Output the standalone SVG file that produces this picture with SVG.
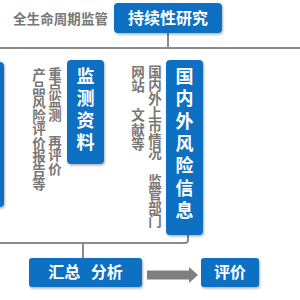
<svg xmlns="http://www.w3.org/2000/svg" width="300" height="300" viewBox="0 0 300 300">
<style>
.box{fill:#0a6fc2;filter:url(#sh)}
.wt{fill:#fff;font-family:"Noto Sans CJK SC","Liberation Sans",sans-serif;font-weight:bold}
.gt{fill:#777;font-family:"Noto Sans CJK SC","Liberation Sans",sans-serif;font-weight:bold;font-size:13.5px}
.v{writing-mode:vertical-rl}
.ln{fill:none;stroke:#8a8a8a;stroke-width:2}
</style>
<defs>
<filter id="sh" x="-20%" y="-20%" width="140%" height="140%">
<feDropShadow dx="1" dy="1.5" stdDeviation="1.2" flood-color="#000" flood-opacity="0.3"/>
</filter>
</defs>
<rect width="300" height="300" fill="#fff"/>
<g id="connectors">
<path class="ln" d="M0,48 H300"/>
<path class="ln" d="M168,33 V48"/>
<path class="ln" d="M188,235 V240 Q188,243 185,243 H0"/>
<path class="ln" d="M83,243 V258"/>
<path d="M147,270.5 H189 V267 L198,275 L189,283 V279.5 H147 Z" fill="#7f7f7f"/>
</g>
<g id="lifecycle">
<text class="gt" x="13" y="24" textLength="95">全生命周期监管</text>
</g>
<g id="research">
<rect class="box" x="114" y="3" width="108" height="30" rx="4"/>
<text class="wt" x="168" y="24" font-size="16" text-anchor="middle">持续性研究</text>
</g>
<g id="leftbox">
<rect class="box" x="-6" y="62" width="10" height="145" rx="4"/>
</g>
<g id="report">
<text class="gt v" x="39" y="68" letter-spacing="0.1">产品风险评价报告等</text>
</g>
<g id="monitor-note">
<text class="gt v" x="55" y="67" letter-spacing="0.1">重点监测　再评价</text>
</g>
<g id="monitor">
<rect class="box" x="67" y="60" width="37" height="104" rx="4"/>
<text class="wt v" x="85.5" y="67" font-size="18" letter-spacing="4">监测资料</text>
</g>
<g id="web-note">
<text class="gt v" x="138" y="65" letter-spacing="1">网站　文献等</text>
</g>
<g id="market-note">
<text class="gt v" x="155" y="65" letter-spacing="0.1">国内外上市情况　监管部门</text>
</g>
<g id="risk">
<rect class="box" x="166" y="60" width="37" height="175" rx="4"/>
<text class="wt v" x="184.5" y="67" font-size="18" letter-spacing="4.4">国内外风险信息</text>
</g>
<g id="summary">
<rect class="box" x="29" y="258" width="113" height="29" rx="3"/>
<text class="wt" x="85.5" y="278" font-size="16" text-anchor="middle" word-spacing="7">汇总 分析</text>
</g>
<g id="evaluate">
<rect class="box" x="201" y="258" width="58" height="29" rx="3"/>
<text class="wt" x="230" y="278" font-size="16" text-anchor="middle">评价</text>
</g>
</svg>
